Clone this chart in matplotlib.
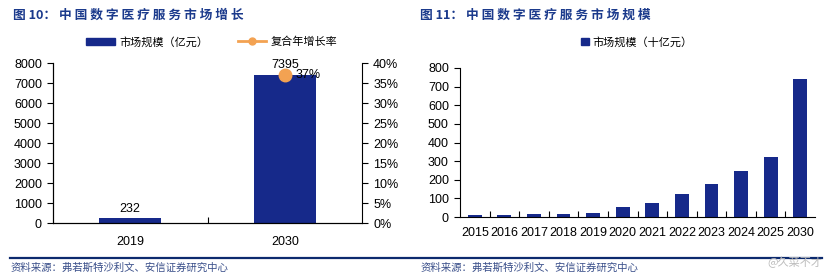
"""图10/图11：中国数字医疗服务市场规模（两个并排柱状图）。"""
import matplotlib
matplotlib.use("Agg")
import matplotlib.pyplot as plt
from matplotlib.lines import Line2D
from matplotlib.patches import Patch

W, H = 834, 280
CJK = ["Noto Sans CJK SC", "DejaVu Sans"]
NUM = ["Liberation Sans", "DejaVu Sans"]
BAR = "#16298A"
ORANGE = "#F3A252"
NAVY = "#1B3A8C"

# 图10 数据
years_a = ["2019", "2030"]
size_a = [232, 7395]          # 亿元
cagr_year = 1                 # 2030 对应位置
cagr_val = 0.37

# 图11 数据
years_b = ["2015", "2016", "2017", "2018", "2019", "2020",
           "2021", "2022", "2023", "2024", "2025", "2030"]
size_b = [10, 9, 15, 15, 24, 53, 77, 122, 178, 246, 322, 740]  # 十亿元

plt.rcParams["font.family"] = NUM
plt.rcParams["font.size"] = 9


def px_axes(fig, x0, y0, x1, y1):
    # 像素坐标（左上原点）换成 figure 比例
    return fig.add_axes([x0 / W, 1 - y1 / H, (x1 - x0) / W, (y1 - y0) / H])


def spaced(num, title):
    # 标题字距较宽：汉字之间插空格
    return f"图 {num}： " + " ".join(title)


fig = plt.figure(figsize=(W / 100, H / 100), dpi=100)

# ---- 左图 ----
ax = px_axes(fig, 53, 63, 362, 223)
ax.bar(range(len(years_a)), size_a, width=0.4, color=BAR)
ax.set_xlim(-0.5, 1.5)
ax.set_ylim(0, 8000)
ax.set_yticks(range(0, 8001, 1000))
ax.set_xticks([0.5])
ax.set_xticklabels([""])
ax.tick_params(axis="x", direction="in", length=4)
ax.tick_params(axis="y", direction="out", length=4, pad=4)
for i, lab in enumerate(years_a):
    ax.text(i, -0.08, lab, transform=ax.get_xaxis_transform(),
            ha="center", va="top", fontsize=9)
for i, v in enumerate(size_a):
    ax.text(i, v + 180, f"{v}", ha="center", va="bottom", fontsize=9)
ax.spines["top"].set_visible(False)
ax.spines["right"].set_visible(False)

ax2 = ax.twinx()
ax2.set_ylim(0, 0.40)
ax2.set_yticks([i / 100 for i in range(0, 41, 5)])
ax2.set_yticklabels([f"{i}%" for i in range(0, 41, 5)])
ax2.tick_params(axis="y", direction="out", length=4, pad=4)
ax2.plot([cagr_year], [cagr_val], "o", color=ORANGE, ms=9)
ax2.text(cagr_year + 0.07, cagr_val, f"{cagr_val:.0%}", ha="left",
         va="center", fontsize=9)
ax2.spines["top"].set_visible(False)

handles = [Patch(color=BAR),
           Line2D([0], [0], color=ORANGE, lw=2, marker="o", ms=5)]
fig.legend(handles, ["市场规模（亿元）", "复合年增长率"],
           loc="center", bbox_to_anchor=(212 / W, 1 - 42 / H), ncol=2,
           frameon=False, prop={"family": CJK, "size": 8},
           handlelength=2.6, handletextpad=0.4, columnspacing=2.6)

# ---- 右图 ----
bx = px_axes(fig, 460, 68, 815, 217)
bx.bar(range(len(years_b)), size_b, width=0.47, color=BAR)
bx.set_xlim(-0.5, len(years_b) - 0.5)
bx.set_ylim(0, 800)
bx.set_yticks(range(0, 801, 100))
bx.set_xticks([i + 0.5 for i in range(len(years_b) - 1)])
bx.set_xticklabels([""] * (len(years_b) - 1))
bx.tick_params(axis="x", direction="in", length=4)
bx.tick_params(axis="y", direction="out", length=4, pad=4)
for i, lab in enumerate(years_b):
    bx.text(i, -0.07, lab, transform=bx.get_xaxis_transform(),
            ha="center", va="top", fontsize=9)
bx.spines["top"].set_visible(False)
bx.spines["right"].set_visible(False)

fig.legend([Patch(color=BAR)], ["市场规模（十亿元）"], loc="center",
           bbox_to_anchor=(637 / W, 1 - 42 / H), frameon=False,
           prop={"family": CJK, "size": 8},
           handlelength=0.7, handleheight=0.7, handletextpad=0.3)

# ---- 标题、来源、分隔线 ----
fig.text(13 / W, 1 - 15 / H, spaced("10", "中国数字医疗服务市场增长"),
         family=CJK, weight="bold", fontsize=9.2, color=NAVY,
         ha="left", va="center")
fig.text(420 / W, 1 - 15 / H, spaced("11", "中国数字医疗服务市场规模"),
         family=CJK, weight="bold", fontsize=9.2, color=NAVY,
         ha="left", va="center")

fig.add_artist(Line2D([10 / W, 822 / W], [1 - 257.5 / H] * 2,
                      color="#0C2A6E", lw=1.6))
src = "资料来源：弗若斯特沙利文、安信证券研究中心"
fig.text(11 / W, 1 - 268 / H, src, family=CJK, fontsize=7.5,
         color="#3A4F8A", ha="left", va="center")
fig.text(421 / W, 1 - 268 / H, src, family=CJK, fontsize=7.5,
         color="#3A4F8A", ha="left", va="center")
fig.text(795 / W, 1 - 262 / H, "@久菜不才", family=CJK, fontsize=8,
         color="#BBBBBB", ha="center", va="center")

fig.savefig("out.png", dpi=100)
